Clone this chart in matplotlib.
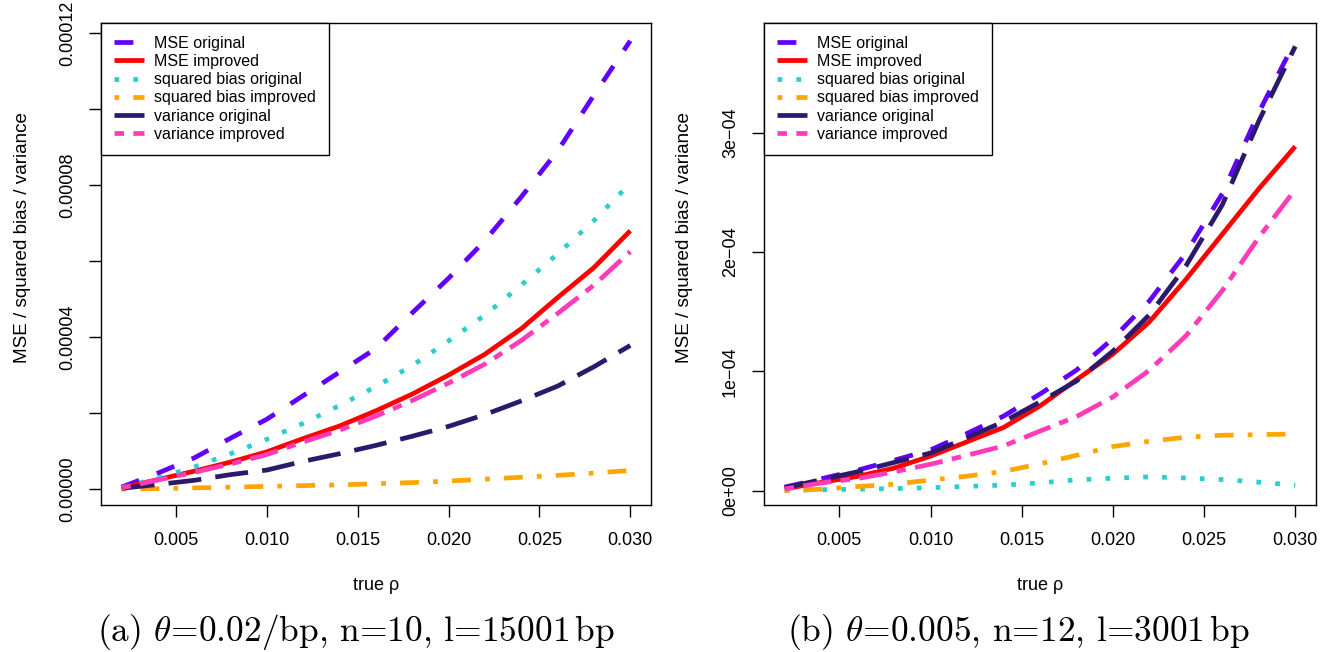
import matplotlib
matplotlib.use("Agg")
import matplotlib.pyplot as plt

plt.rcParams['font.family'] = ['Liberation Sans', 'DejaVu Sans']
plt.rcParams['mathtext.fontset'] = 'cm'
plt.rcParams['axes.unicode_minus'] = True

# ---------------- data ----------------
rho = [0.002, 0.004, 0.006, 0.008, 0.010, 0.012, 0.014, 0.016,
       0.018, 0.020, 0.022, 0.024, 0.026, 0.028, 0.030]

# panel (a)
mse_orig_a = [0.05e-5, 0.42e-5, 0.82e-5, 1.34e-5, 1.84e-5, 2.46e-5, 3.08e-5, 3.70e-5,
              4.64e-5, 5.55e-5, 6.54e-5, 7.69e-5, 8.90e-5, 10.37e-5, 11.80e-5]
mse_impr_a = [0.03e-5, 0.25e-5, 0.47e-5, 0.71e-5, 0.98e-5, 1.33e-5, 1.66e-5, 2.06e-5,
              2.50e-5, 3.00e-5, 3.55e-5, 4.22e-5, 5.04e-5, 5.83e-5, 6.80e-5]
bias2_orig_a = [0.03e-5, 0.29e-5, 0.58e-5, 0.93e-5, 1.31e-5, 1.73e-5, 2.20e-5, 2.70e-5,
                3.25e-5, 3.90e-5, 4.58e-5, 5.37e-5, 6.19e-5, 7.07e-5, 8.05e-5]
bias2_impr_a = [0.00e-5, 0.01e-5, 0.03e-5, 0.05e-5, 0.07e-5, 0.09e-5, 0.11e-5, 0.14e-5,
                0.17e-5, 0.21e-5, 0.26e-5, 0.31e-5, 0.36e-5, 0.42e-5, 0.49e-5]
var_orig_a = [0.02e-5, 0.12e-5, 0.23e-5, 0.38e-5, 0.50e-5, 0.73e-5, 0.93e-5, 1.15e-5,
              1.39e-5, 1.65e-5, 1.96e-5, 2.32e-5, 2.71e-5, 3.22e-5, 3.78e-5]
var_impr_a = [0.03e-5, 0.24e-5, 0.44e-5, 0.66e-5, 0.91e-5, 1.24e-5, 1.55e-5, 1.92e-5,
              2.33e-5, 2.79e-5, 3.29e-5, 3.91e-5, 4.62e-5, 5.37e-5, 6.25e-5]

# panel (b)
mse_orig_b = [0.30e-5, 1.00e-5, 1.72e-5, 2.55e-5, 3.42e-5, 4.80e-5, 6.25e-5, 8.10e-5,
              10.10e-5, 12.75e-5, 15.90e-5, 19.90e-5, 24.90e-5, 31.70e-5, 37.70e-5]
mse_impr_b = [0.15e-5, 0.70e-5, 1.20e-5, 1.90e-5, 2.90e-5, 4.10e-5, 5.30e-5, 7.10e-5,
              9.30e-5, 11.45e-5, 14.15e-5, 17.70e-5, 21.50e-5, 25.30e-5, 28.85e-5]
bias2_orig_b = [0.05e-5, 0.08e-5, 0.13e-5, 0.18e-5, 0.26e-5, 0.36e-5, 0.47e-5, 0.66e-5,
                0.91e-5, 1.05e-5, 1.16e-5, 1.07e-5, 0.94e-5, 0.72e-5, 0.46e-5]
bias2_impr_b = [0.00e-5, 0.13e-5, 0.35e-5, 0.55e-5, 0.90e-5, 1.22e-5, 1.62e-5, 2.25e-5,
                2.97e-5, 3.70e-5, 4.15e-5, 4.48e-5, 4.65e-5, 4.70e-5, 4.75e-5]
var_orig_b = [0.25e-5, 0.92e-5, 1.59e-5, 2.37e-5, 3.16e-5, 4.44e-5, 5.78e-5, 7.44e-5,
              9.19e-5, 11.70e-5, 14.74e-5, 18.83e-5, 23.96e-5, 30.98e-5, 37.24e-5]
var_impr_b = [0.15e-5, 0.65e-5, 1.02e-5, 1.58e-5, 2.22e-5, 2.97e-5, 3.75e-5, 5.00e-5,
              6.21e-5, 7.86e-5, 10.10e-5, 12.97e-5, 16.77e-5, 21.23e-5, 25.25e-5]

labels = ["MSE original", "MSE improved", "squared bias original",
          "squared bias improved", "variance original", "variance improved"]

xticks = [0.005, 0.010, 0.015, 0.020, 0.025, 0.030]
xtick_labels = ["0.005", "0.010", "0.015", "0.020", "0.025", "0.030"]

yticks_a = [0.0, 2e-5, 4e-5, 6e-5, 8e-5, 10e-5, 12e-5]
ytick_labels_a = ["0.00000", "", "0.00004", "", "0.00008", "", "0.00012"]
yticks_b = [0.0, 1e-4, 2e-4, 3e-4]
ytick_labels_b = ["0e+00", "1e\u221204", "2e\u221204", "3e\u221204"]

captions = [r"(a) $\theta$=0.02/bp, n=10, l=15001$\,$bp",
            r"(b) $\theta$=0.005, n=12, l=3001$\,$bp"]

# ---------------- styles ----------------
colors = ["#6000FF", "#FF0000", "#2CCCD0", "#FFA500", "#2B1A6B", "#FF3CB8"]
styles = [(0, (4, 4)), "-", (0, (1, 3)), (0, (1, 3, 4, 3)), (0, (7, 3)), (0, (2, 2, 6, 2))]
LW = 3.4

W, H = 1339, 652
fig = plt.figure(figsize=(W / 100, H / 100), dpi=100)

panels = [
    dict(rect=[101.2 / W, 147 / H, 549.4 / W, 482 / H],
         series=[mse_orig_a, mse_impr_a, bias2_orig_a, bias2_impr_a, var_orig_a, var_impr_a],
         yticks=yticks_a, yticklabels=ytick_labels_a, cap_x=356 / W),
    dict(rect=[764.2 / W, 147 / H, 551.5 / W, 482 / H],
         series=[mse_orig_b, mse_impr_b, bias2_orig_b, bias2_impr_b, var_orig_b, var_impr_b],
         yticks=yticks_b, yticklabels=ytick_labels_b, cap_x=1018 / W),
]

for p, cap in zip(panels, captions):
    ax = fig.add_axes(p["rect"])
    for vals, lab, col, ls in zip(p["series"], labels, colors, styles):
        ax.plot(rho, vals, color=col, linestyle=ls, linewidth=LW, label=lab,
                solid_capstyle="butt", dash_capstyle="butt")
    # R-style limits: range of first series (+4%)
    x0, x1 = min(rho), max(rho)
    dx = 0.04 * (x1 - x0)
    ax.set_xlim(x0 - dx, x1 + dx)
    base = p["series"][0]
    y0, y1 = min(base), max(base)
    dy = 0.04 * (y1 - y0)
    ax.set_ylim(y0 - dy, y1 + dy)

    ax.set_xticks(xticks)
    ax.set_xticklabels(xtick_labels)
    ax.set_yticks(p["yticks"])
    ax.set_yticklabels(p["yticklabels"])
    ax.tick_params(direction="out", length=8.6, width=1.0, labelsize=13, color="black")
    ax.tick_params(axis="x", pad=10.5)
    ax.tick_params(axis="y", labelrotation=90, pad=9.5)
    for t in ax.get_yticklabels():
        t.set_verticalalignment("center")
        t.set_horizontalalignment("right")
    for s in ax.spines.values():
        s.set_linewidth(1.0)
        s.set_color("black")

    ax.set_xlabel("true \u03c1", fontsize=13)
    ax.xaxis.label.set_verticalalignment("center")
    ax.xaxis.set_label_coords(0.5, -0.168)
    ax.set_ylabel("MSE / squared bias / variance", fontsize=13.6)
    ax.yaxis.label.set_verticalalignment("center")
    ax.yaxis.set_label_coords(-0.144, 0.556)

    leg = ax.legend(loc="upper left", borderaxespad=0.0, fancybox=False,
                    edgecolor="black", framealpha=1.0, fontsize=11.5,
                    handlelength=1.9, handletextpad=0.6, labelspacing=0.2,
                    borderpad=0.8)
    leg.get_frame().set_linewidth(1.0)

    fig.text(p["cap_x"], 1 - 632 / H, cap, ha="center", va="center",
             fontsize=25.5, family="cmr10")

fig.savefig("out.png", dpi=100)
